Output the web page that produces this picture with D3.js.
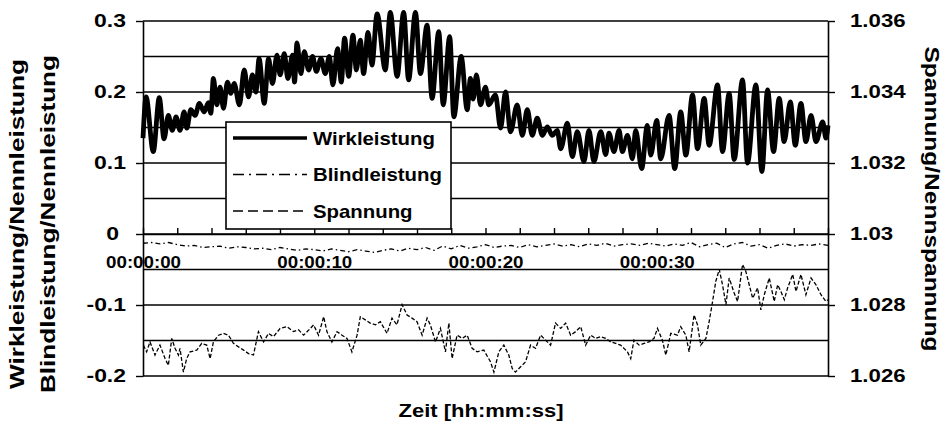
<!DOCTYPE html>
<html><head><meta charset="utf-8">
<script src="https://cdn.jsdelivr.net/npm/d3@7"></script>
<style>
html,body{margin:0;padding:0;background:#fff;}
svg text{font-family:"Liberation Sans",Arial,sans-serif;font-weight:bold;fill:#000;}
</style></head><body>
<svg id="chart" width="942" height="423"></svg>
<script>
// ---- data ----
// Wirkleistung (active power / rated power), turning points of the oscillation: time [s], value
const wirkT = [0,0.18,0.60,0.95,1.23,1.48,1.71,1.93,2.16,2.40,2.56,2.79,3.04,3.29,3.57,3.82,3.96,4.11,4.31,4.50,4.70,4.93,5.13,5.32,5.63,5.91,6.16,6.39,6.59,6.78,7.08,7.33,7.56,7.82,8.01,8.25,8.46,8.73,8.85,8.99,9.22,9.42,9.67,9.90,10.12,10.39,10.64,10.88,11.09,11.36,11.58,11.77,12.01,12.26,12.46,12.69,12.88,13.14,13.37,13.67,14.15,14.44,14.84,15.22,15.51,15.91,16.20,16.59,16.88,17.27,17.53,17.91,18.15,18.58,18.93,19.12,19.28,19.47,19.71,20.00,20.19,20.58,20.88,21.17,21.46,21.85,22.15,22.44,22.73,23.02,23.32,23.61,23.90,24.19,24.39,24.78,25.07,25.36,25.75,26.04,26.33,26.73,27.02,27.21,27.50,27.80,27.99,28.29,28.58,28.77,29.12,29.45,29.65,30.00,30.23,30.72,31.05,31.40,31.70,32.09,32.38,32.77,33.06,33.55,33.84,34.23,34.52,35.01,35.30,35.79,36.14,36.47,36.82,37.15,37.44,37.80,38.09,38.42,38.71,39.01,39.30,39.69,39.88,40.00];
const wirkV = [0.135,0.193,0.116,0.192,0.134,0.167,0.146,0.165,0.146,0.172,0.149,0.175,0.167,0.184,0.172,0.185,0.170,0.219,0.182,0.207,0.177,0.214,0.198,0.212,0.182,0.231,0.193,0.224,0.200,0.247,0.184,0.247,0.212,0.252,0.224,0.254,0.219,0.252,0.214,0.269,0.226,0.257,0.231,0.250,0.229,0.247,0.226,0.250,0.210,0.261,0.214,0.276,0.222,0.280,0.231,0.273,0.226,0.284,0.238,0.310,0.231,0.312,0.222,0.312,0.217,0.312,0.226,0.294,0.191,0.285,0.182,0.278,0.165,0.250,0.175,0.219,0.190,0.224,0.182,0.207,0.182,0.196,0.149,0.200,0.144,0.182,0.139,0.175,0.139,0.163,0.139,0.151,0.139,0.146,0.120,0.156,0.109,0.144,0.102,0.146,0.102,0.144,0.112,0.142,0.116,0.146,0.116,0.139,0.106,0.146,0.092,0.153,0.111,0.160,0.106,0.167,0.092,0.172,0.111,0.196,0.120,0.191,0.125,0.210,0.116,0.198,0.105,0.217,0.100,0.210,0.088,0.203,0.116,0.191,0.130,0.186,0.125,0.184,0.130,0.167,0.130,0.158,0.135,0.153];

// Blindleistung (reactive power / rated power), sampled every blindStep seconds
const blindStep = 0.5;
const blindV = [-0.013,-0.012,-0.014,-0.012,-0.015,-0.017,-0.016,-0.019,-0.018,-0.017,
  -0.020,-0.018,-0.019,-0.021,-0.020,-0.022,-0.019,-0.021,-0.023,-0.021,
  -0.022,-0.024,-0.021,-0.023,-0.025,-0.022,-0.024,-0.026,-0.023,-0.021,
  -0.024,-0.020,-0.022,-0.019,-0.023,-0.017,-0.021,-0.016,-0.020,-0.018,
  -0.015,-0.019,-0.017,-0.016,-0.019,-0.015,-0.018,-0.016,-0.014,-0.017,
  -0.015,-0.018,-0.014,-0.016,-0.013,-0.017,-0.015,-0.014,-0.016,-0.013,
  -0.015,-0.017,-0.014,-0.016,-0.012,-0.018,-0.015,-0.013,-0.019,-0.014,
  -0.012,-0.017,-0.015,-0.020,-0.016,-0.014,-0.017,-0.015,-0.016,-0.014,-0.016];

// Spannung (voltage / rated voltage), right axis: time [s], value
const spanT = [0.02,0.21,0.41,0.70,0.99,1.29,1.48,1.68,1.87,2.07,2.16,2.36,2.55,2.75,3.14,3.43,3.72,3.92,4.11,4.41,4.70,4.99,5.28,5.58,5.87,6.16,6.45,6.74,7.04,7.33,7.62,8.01,8.40,8.79,9.08,9.38,9.77,9.96,10.25,10.55,10.74,11.03,11.33,11.62,11.91,12.20,12.50,12.69,12.98,13.27,13.57,13.86,14.25,14.54,14.83,15.13,15.42,15.71,16.00,16.30,16.59,16.78,17.08,17.37,17.66,17.86,18.05,18.34,18.64,18.93,19.22,19.51,19.90,20.29,20.49,20.78,21.07,21.36,21.56,21.75,22.05,22.34,22.63,22.92,23.22,23.51,23.80,24.09,24.39,24.68,24.97,25.26,25.56,25.85,26.14,26.43,26.73,27.02,27.31,27.60,27.89,28.29,28.48,28.67,28.97,29.26,29.55,29.84,30.04,30.33,30.53,30.82,31.21,31.40,31.70,31.89,32.18,32.38,32.57,32.87,33.06,33.26,33.45,33.65,33.84,34.04,34.23,34.52,34.72,35.01,35.20,35.40,35.60,35.89,36.08,36.28,36.57,36.86,37.06,37.25,37.45,37.64,37.94,38.13,38.42,38.71,39.01,39.30,39.59,39.88,40.00];
const spanV = [1.02687,1.02668,1.02696,1.02659,1.02687,1.02649,1.02630,1.02706,1.02678,1.02659,1.02678,1.02611,1.02649,1.02668,1.02673,1.02692,1.02687,1.02649,1.02696,1.02715,1.02720,1.02715,1.02692,1.02682,1.02673,1.02663,1.02659,1.02725,1.02696,1.02720,1.02711,1.02734,1.02739,1.02725,1.02730,1.02715,1.02734,1.02744,1.02715,1.02767,1.02725,1.02696,1.02725,1.02715,1.02706,1.02668,1.02715,1.02767,1.02758,1.02749,1.02744,1.02753,1.02720,1.02763,1.02744,1.02801,1.02772,1.02763,1.02753,1.02715,1.02763,1.02744,1.02696,1.02734,1.02668,1.02749,1.02649,1.02715,1.02706,1.02715,1.02678,1.02668,1.02673,1.02640,1.02611,1.02668,1.02687,1.02659,1.02621,1.02611,1.02626,1.02640,1.02687,1.02678,1.02715,1.02701,1.02687,1.02749,1.02734,1.02749,1.02715,1.02725,1.02739,1.02687,1.02715,1.02706,1.02711,1.02706,1.02696,1.02692,1.02687,1.02668,1.02649,1.02701,1.02687,1.02692,1.02696,1.02706,1.02734,1.02701,1.02659,1.02720,1.02715,1.02739,1.02715,1.02668,1.02772,1.02744,1.02687,1.02706,1.02753,1.02810,1.02867,1.02900,1.02857,1.02801,1.02876,1.02834,1.02810,1.02914,1.02895,1.02857,1.02819,1.02848,1.02786,1.02829,1.02876,1.02810,1.02857,1.02838,1.02815,1.02848,1.02886,1.02838,1.02886,1.02829,1.02876,1.02857,1.02829,1.02810,1.02815];

// axes
const leftTicks  = [-0.2,-0.1,0,0.1,0.2,0.3];
const gridVals   = [-0.2,-0.15,-0.1,-0.05,0,0.05,0.1,0.15,0.2,0.25,0.3];
const rightTicks = [1.026,1.028,1.03,1.032,1.034,1.036];
const timeTicks  = [0,2,4,6,8,10,12,14,16,18,20,22,24,26,28,30,32,34,36,38,40];
const timeLabelSecs = [0,10,20,30];
const timeLabels = ["00:00:00","00:00:10","00:00:20","00:00:30"];
const seriesNames = ["Wirkleistung","Blindleistung","Spannung"];

// ---- layout ----
const svg = d3.select("#chart");
const L = 143, R = 828, T = 21, B = 376;
const x  = d3.scaleLinear().domain([0,40]).range([L,R]);
const yL = d3.scaleLinear().domain([-0.2,0.3]).range([B,T]);
const yR = d3.scaleLinear().domain([1.026,1.036]).range([B,T]);

// widen text along its baseline (the chart's lettering is set wide)
function widen(sel, k){
  sel.each(function(){
    const w = this.getComputedTextLength();
    this.setAttribute("textLength", (w*k).toFixed(1));
    this.setAttribute("lengthAdjust","spacingAndGlyphs");
  });
}
function fitTo(sel, len){
  sel.attr("textLength",len).attr("lengthAdjust","spacingAndGlyphs");
}

// horizontal gridlines
svg.append("g").selectAll("line").data(gridVals).join("line")
  .attr("x1",L).attr("x2",R)
  .attr("y1",d=>yL(d)).attr("y2",d=>yL(d))
  .attr("stroke","#000").attr("stroke-width",1.4);

// left axis
const gLeft = svg.append("g").attr("transform",`translate(${L},0)`)
  .call(d3.axisLeft(yL).tickValues(leftTicks).tickSize(7).tickSizeOuter(0).tickPadding(10)
        .tickFormat(d=>String(d)));
gLeft.select(".domain").attr("stroke","#000").attr("stroke-width",1.6);
gLeft.selectAll(".tick line").attr("stroke","#000").attr("stroke-width",1.4);
gLeft.selectAll(".tick text").attr("font-size",18.5).attr("font-family",null)
  .attr("dx",d=>d===0?-7:0);

// right axis
const gRight = svg.append("g").attr("transform",`translate(${R},0)`)
  .call(d3.axisRight(yR).tickValues(rightTicks).tickSize(7).tickSizeOuter(0).tickPadding(15)
        .tickFormat(d=>String(d)));
gRight.select(".domain").attr("stroke","#000").attr("stroke-width",1.6);
gRight.selectAll(".tick line").attr("stroke","#000").attr("stroke-width",1.4);
gRight.selectAll(".tick text").attr("font-size",18.5).attr("font-family",null);

// time axis on the zero line, tick marks pointing up
const y0 = yL(0);
const gTime = svg.append("g").attr("transform",`translate(0,${y0})`)
  .call(d3.axisTop(x).tickValues(timeTicks).tickSize(6).tickSizeOuter(0).tickFormat(""));
gTime.select(".domain").attr("stroke","#000").attr("stroke-width",1.6);
gTime.selectAll(".tick line").attr("stroke","#000").attr("stroke-width",1.4);

const gTimeLab = svg.append("g").attr("transform",`translate(0,${y0})`)
  .call(d3.axisBottom(x).tickValues(timeLabelSecs).tickSize(0).tickPadding(23)
        .tickFormat((d,i)=>timeLabels[i]));
gTimeLab.select(".domain").remove();
gTimeLab.selectAll(".tick text").attr("font-size",16).attr("font-family",null);

// ---- series ----
const wirkData  = wirkT.map((t,i)=>[t,wirkV[i]]);
const blindData = blindV.map((v,i)=>[i*blindStep,v]);
const spanData  = spanT.map((t,i)=>[t,spanV[i]]);

svg.append("path").datum(spanData)
  .attr("fill","none").attr("stroke","#000").attr("stroke-width",1.3)
  .attr("stroke-dasharray","4,2")
  .attr("d",d3.line().x(d=>x(d[0])).y(d=>yR(d[1])));

svg.append("path").datum(blindData)
  .attr("fill","none").attr("stroke","#000").attr("stroke-width",1.3)
  .attr("stroke-dasharray","5,3,1.5,3")
  .attr("d",d3.line().x(d=>x(d[0])).y(d=>yL(d[1])));

svg.append("path").datum(wirkData)
  .attr("fill","none").attr("stroke","#000").attr("stroke-width",4.8)
  .attr("stroke-linejoin","round")
  .attr("d",d3.line().x(d=>x(d[0])).y(d=>yL(d[1])).curve(d3.curveMonotoneX));

// ---- legend ----
const lg = svg.append("g").attr("transform","translate(226,122)");
lg.append("rect").attr("width",225).attr("height",107)
  .attr("fill","#fff").attr("stroke","#000").attr("stroke-width",1.6);
const legStyles = [
  {w:3.5, dash:null},
  {w:1.5, dash:"11,5,2,5"},
  {w:1.5, dash:"10,5"}
];
const rows = lg.selectAll("g.row").data(seriesNames).join("g")
  .attr("class","row").attr("transform",(d,i)=>`translate(0,${16+i*36.5})`);
rows.append("line").attr("x1",7).attr("x2",81).attr("y1",0).attr("y2",0)
  .attr("stroke","#000").attr("stroke-width",(d,i)=>legStyles[i].w)
  .attr("stroke-dasharray",(d,i)=>legStyles[i].dash);
rows.append("text").attr("x",87).attr("y",6.5).attr("font-size",18.5).text(d=>d);

// ---- axis titles ----
const tW = svg.append("text").attr("transform","translate(24,224) rotate(-90)")
  .attr("text-anchor","middle").attr("font-size",20).text("Wirkleistung/Nennleistung");
const tB = svg.append("text").attr("transform","translate(55,224) rotate(-90)")
  .attr("text-anchor","middle").attr("font-size",20).text("Blindleistung/Nennleistung");
const tS = svg.append("text").attr("transform","translate(925,199) rotate(90)")
  .attr("text-anchor","middle").attr("font-size",20).text("Spannung/Nennspannung");
const tZ = svg.append("text").attr("x",481).attr("y",417)
  .attr("text-anchor","middle").attr("font-size",19).text("Zeit [hh:mm:ss]");

// lettering width
widen(gLeft.selectAll(".tick text"),1.24);
widen(gRight.selectAll(".tick text"),1.2);
widen(gTimeLab.selectAll(".tick text"),1.17);
widen(rows.selectAll("text"),1.1);
fitTo(tW,330); fitTo(tB,338); fitTo(tS,305); fitTo(tZ,165);
</script></body></html>
